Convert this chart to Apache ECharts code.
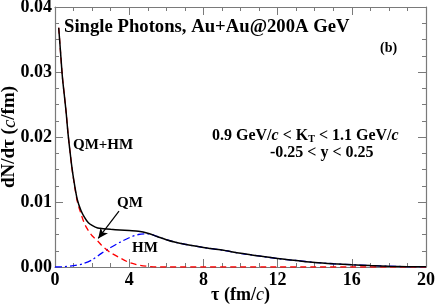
<!DOCTYPE html>
<html><head><meta charset="utf-8">
<script src="https://cdn.jsdelivr.net/npm/echarts@6/dist/echarts.min.js"></script>
<style>html,body{margin:0;padding:0;background:#fff}#c{width:436px;height:305px}</style>
</head><body><div id="c"></div>
<script>
const xTicks = [0, 4, 8, 12, 16, 20];
const yTicks = [0, 0.01, 0.02, 0.03, 0.04];

const tauTotal = [0.2,0.3,0.4,0.5,0.6,0.7,0.8,0.9,1.0,1.2,1.4,1.6,1.8,2.0,2.3,2.6,3.0,3.5,4.0,4.5,5.0,5.5,6.0,6.5,7.0,8,9,10,11,12,13,14,15,16,17,18,19,20];
const total    = [0.0368,0.0330,0.0292,0.0265,0.0238,0.0206,0.0180,0.0156,0.0136,0.0104,0.0087,0.0076,0.0068,0.0064,0.0060,0.0059,0.0058,0.0057,0.0056,0.0055,0.0052,0.0047,0.0042,0.0038,0.0035,0.0030,0.0026,0.0021,0.0017,0.0013,0.0010,0.0007,0.0005,0.00035,0.00022,0.00012,0.00005,0.00002];

const tauQM = [0.2,0.3,0.4,0.5,0.6,0.7,0.8,0.9,1.0,1.2,1.4,1.6,1.8,2.0,2.3,2.6,3.0,3.5,4.0,4.5,5.0,5.5,6,8,10,12,14,16,18,20];
const qm    = [0.0368,0.0330,0.0292,0.0265,0.0238,0.0206,0.0180,0.0155,0.0135,0.0101,0.0082,0.0066,0.0056,0.0048,0.0040,0.0031,0.0022,0.0014,0.0007,0.0003,0.0001,0,0,0,0,0,0,0,0,0];

const tauHM = [0,0.5,1.0,1.5,2.0,2.5,3.0,3.5,4.0,4.5,5.0,5.5,6.0,6.5,7.0,8,9,10,11,12,13,14,15,16,17,18,19,20];
const hm    = [0,0.00005,0.0002,0.0005,0.0011,0.0021,0.0030,0.0038,0.0045,0.0050,0.0051,0.0047,0.0042,0.0038,0.0035,0.0030,0.0026,0.0021,0.0017,0.0013,0.0010,0.0007,0.0005,0.00035,0.00022,0.00012,0.00005,0.00002];

const arrowFrom = [3.45, 0.0086];
const arrowTo = [2.33, 0.0044];

const FF = '"Liberation Serif","Times New Roman",serif';
const AX = '#7a7a7a';
const pair = (xs, ys) => xs.map((x, i) => [x, ys[i]]);

const chart = echarts.init(document.getElementById('c'), null, {renderer: 'canvas'});

function xAx(pos, show) {
  return {
    type: 'value', position: pos, min: xTicks[0], max: xTicks[xTicks.length-1], interval: xTicks[1]-xTicks[0],
    axisLine: {show: true, onZero: false, lineStyle: {color: AX, width: 1.2}},
    axisTick: {show: true, inside: true, length: 8, lineStyle: {color: AX}},
    minorTick: {show: true, splitNumber: 4, length: 4, lineStyle: {color: AX}},
    splitLine: {show: false},
    axisLabel: {show: show, color: '#000', fontFamily: FF, fontWeight: 'bold', fontSize: 18, margin: 4},
    name: show ? '{t|τ (fm/}{i|c}{t|)}' : '', nameLocation: 'middle', nameGap: 19, nameMoveOverlap: false,
    nameTextStyle: {rich: {t: {fontFamily: FF, fontWeight: 'bold', fontSize: 18, color: '#000'},
                           i: {fontFamily: FF, fontStyle: 'italic', fontWeight: 'normal', fontSize: 18, color: '#000'}}}
  };
}
function yAx(pos, show) {
  return {
    type: 'value', position: pos, min: yTicks[0], max: yTicks[yTicks.length-1], interval: yTicks[1]-yTicks[0],
    axisLine: {show: true, onZero: false, lineStyle: {color: AX, width: 1.2}},
    axisTick: {show: true, inside: true, length: 8, lineStyle: {color: AX}},
    minorTick: {show: true, splitNumber: 4, length: 4, lineStyle: {color: AX}},
    splitLine: {show: false},
    axisLabel: {show: show, color: '#000', fontFamily: FF, fontWeight: 'bold', fontSize: 18, margin: 3,
                formatter: v => v.toFixed(2)},
    name: show ? '{t|dN/dτ (}{i|c}{t|/fm)}' : '', nameLocation: 'middle', nameGap: 36, nameRotate: 90, nameMoveOverlap: false,
    nameTextStyle: {rich: {t: {fontFamily: FF, fontWeight: 'bold', fontSize: 19, color: '#000'},
                           i: {fontFamily: FF, fontStyle: 'italic', fontWeight: 'normal', fontSize: 19, color: '#000'}}}
  };
}

const txt = (s, size) => ({fontFamily: FF, fontWeight: 'bold', fontSize: size, color: '#000'});

chart.setOption({
  animation: false,
  backgroundColor: '#fff',
  grid: {left: 55, right: 10, top: 7, bottom: 38, containLabel: false, outerBoundsMode: 'none'},
  xAxis: [xAx('bottom', true), xAx('top', false)],
  yAxis: [yAx('left', true), yAx('right', false)],
  title: [
    {text: 'Single Photons, Au+Au@200A GeV', left: 64, top: 18, padding: 0, textStyle: txt('', 18.7)},
    {text: '(b)', left: 380, top: 41, padding: 0, textStyle: txt('', 14)},
    {text: '{t|0.9 GeV/}{i|c}{t| < K}{s|T}{t| < 1.1 GeV/}{i|c}', left: 212, top: 128, padding: 0,
     textStyle: {rich: {t: txt('', 16), i: {fontFamily: FF, fontStyle: 'italic', fontSize: 16, color: '#000'},
                        s: {fontFamily: FF, fontWeight: 'bold', fontSize: 10, color: '#000', verticalAlign: 'bottom', padding: [6,0,0,0]}}}},
    {text: '-0.25 < y < 0.25', left: 270, top: 145, padding: 0, textStyle: txt('', 16)},
    {text: 'QM+HM', left: 73, top: 138, padding: 0, textStyle: txt('', 15)},
    {text: 'QM', left: 117, top: 196, padding: 0, textStyle: txt('', 15)},
    {text: 'HM', left: 132, top: 241, padding: 0, textStyle: txt('', 15)}
  ],
  series: [
    {type: 'line', name: 'HM', data: pair(tauHM, hm), showSymbol: false, smooth: 0.3, z: 2,
     lineStyle: {color: '#0000ff', width: 1.3, type: [7, 3, 2, 3]}},
    {type: 'line', name: 'QM', data: pair(tauQM, qm), showSymbol: false, smooth: 0.3, z: 3,
     lineStyle: {color: '#ff0000', width: 1.3, type: [6, 4]}},
    {type: 'line', name: 'QM+HM', data: pair(tauTotal, total), showSymbol: false, smooth: 0.3, z: 4,
     lineStyle: {color: '#000', width: 1.5},
     markLine: {silent: true, symbol: ['none', 'arrow'], symbolSize: [7, 10], label: {show: false},
       lineStyle: {color: '#000', width: 1.2, type: 'solid'},
       data: [[{coord: arrowFrom}, {coord: arrowTo}]]}}
  ]
});
</script></body></html>
